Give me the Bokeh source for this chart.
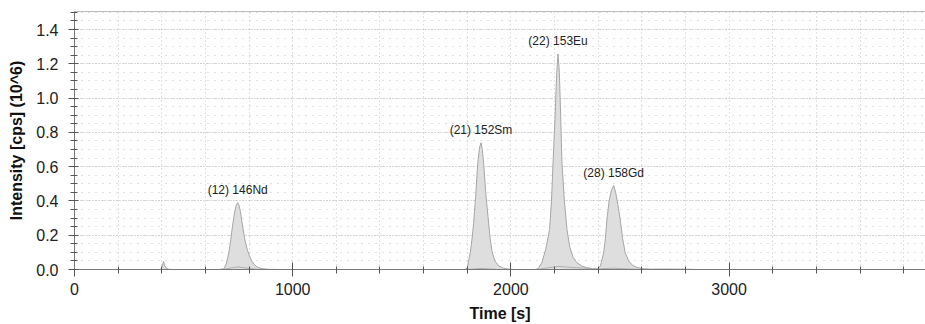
from bokeh.plotting import figure
from bokeh.models import Range1d, SingleIntervalTicker, Span, ColumnDataSource, NumeralTickFormatter
from bokeh.core.properties import value
from bokeh.embed import file_html
from bokeh.resources import INLINE

# Chromatogram trace: retention time [s] and intensity [cps] (10^6)
time_s = [
    0, 395, 403, 408, 413, 420, 430, 445,
    660, 684, 695, 707, 715, 722, 733, 741, 748, 754, 760, 766, 772, 780, 790, 800, 812, 825, 840, 860, 890, 930,
    1790, 1800, 1806, 1814, 1822, 1829, 1838, 1848, 1856, 1863, 1869, 1875, 1884, 1891, 1898, 1905, 1913,
    1921, 1929, 1945, 1965, 1990, 2020,
    2110, 2125, 2142, 2160, 2177, 2186, 2193, 2202, 2210, 2216, 2222, 2228, 2234, 2245, 2257, 2270, 2285,
    2303, 2325, 2350, 2379,
    2395, 2410, 2425, 2433, 2440, 2450, 2460, 2471, 2480, 2490, 2501, 2512, 2524, 2540, 2557, 2577, 2605,
    2640, 2700, 2800, 2850, 3900,
]
intensity = [
    0.0, 0.0, 0.02, 0.047, 0.025, 0.008, 0.002, 0.0,
    0.0, 0.004, 0.03, 0.097, 0.16, 0.233, 0.33, 0.375, 0.39, 0.375, 0.34, 0.29, 0.24, 0.18, 0.125, 0.085,
    0.05, 0.027, 0.012, 0.005, 0.001, 0.0,
    0.0, 0.01, 0.05, 0.10, 0.18, 0.27, 0.42, 0.62, 0.71, 0.74, 0.70, 0.62, 0.46, 0.36, 0.27, 0.18, 0.11,
    0.07, 0.045, 0.02, 0.008, 0.002, 0.0,
    0.0, 0.005, 0.04, 0.12, 0.233, 0.40, 0.62, 0.88, 1.15, 1.257, 1.15, 0.90, 0.62, 0.40, 0.233, 0.13, 0.07,
    0.04, 0.02, 0.01, 0.005,
    0.004, 0.02, 0.097, 0.18, 0.29, 0.40, 0.46, 0.49, 0.45, 0.38, 0.29, 0.18, 0.097, 0.05, 0.025, 0.012, 0.005,
    0.002, 0.003, 0.002, 0.0, 0.0,
]

# Secondary (weak) isotope trace underneath the main peaks
minor_time = [0, 680, 720, 748, 780, 840, 1800, 1863, 1940, 2120, 2180, 2216, 2260, 2330, 2400, 2440,
              2471, 2520, 2600, 3900]
minor_intensity = [0.0, 0.0, 0.01, 0.015, 0.01, 0.0, 0.0, 0.006, 0.0, 0.0, 0.012, 0.018, 0.014, 0.008,
                   0.004, 0.006, 0.008, 0.004, 0.0, 0.0]

# Peak annotations
peak_labels = ["(12) 146Nd", "(21) 152Sm", "(22) 153Eu", "(28) 158Gd"]
peak_times = [748, 1863, 2216, 2471]
peak_heights = [0.39, 0.74, 1.257, 0.49]

FONT = "Liberation Sans"
AXIS_GRAY = "#7a7a7a"
GRID_GRAY = "#c4c4c4"

p = figure(
    width=925, height=324,
    output_backend="svg", toolbar_location=None,
    x_range=Range1d(0, 3900), y_range=Range1d(0, 1.505),
    min_border_left=74, min_border_right=0, min_border_top=11, min_border_bottom=54,
    background_fill_color="white", border_fill_color="white",
)
p.outline_line_color = None

# Axes
p.xaxis.ticker = SingleIntervalTicker(interval=1000, num_minor_ticks=5)
p.yaxis.ticker = SingleIntervalTicker(interval=0.2, num_minor_ticks=4)
p.yaxis.formatter = NumeralTickFormatter(format="0.0")

for ax in (p.xaxis[0], p.yaxis[0]):
    ax.axis_line_color = AXIS_GRAY
    ax.major_tick_line_color = "#555555"
    ax.minor_tick_line_color = "#555555"
    ax.major_label_text_font = FONT
    ax.major_label_text_font_size = "16px"
    ax.major_label_text_color = "#222222"
    ax.axis_label_text_font = FONT
    ax.axis_label_text_font_size = "16px"
    ax.axis_label_text_font_style = "bold"
    ax.axis_label_text_color = "#111111"

p.xaxis.axis_label = "Time [s]"
p.xaxis.major_tick_in = 7
p.xaxis.major_tick_out = 7
p.xaxis.minor_tick_in = 3
p.xaxis.minor_tick_out = 4
p.xaxis.major_label_standoff = 6
p.xaxis.axis_label_standoff = 7

p.yaxis.axis_label = "Intensity [cps] (10^6)"
p.yaxis.major_tick_in = 4
p.yaxis.major_tick_out = 6
p.yaxis.minor_tick_in = 3
p.yaxis.minor_tick_out = 4
p.yaxis.major_label_standoff = 10
p.yaxis.axis_label_standoff = 8

# Grid
p.xgrid.ticker = SingleIntervalTicker(interval=200)
p.xgrid.grid_line_color = GRID_GRAY
p.xgrid.grid_line_dash = "1 3"
p.ygrid.grid_line_color = "#b8b8b8"
p.ygrid.grid_line_dash = "1 2"
p.ygrid.minor_grid_line_color = GRID_GRAY
p.ygrid.minor_grid_line_dash = "1 6"

# Top frame border
p.add_layout(Span(location=1.505, dimension="width", line_color=AXIS_GRAY, line_width=1))

# Traces
src = ColumnDataSource(dict(t=time_s, y=intensity))
p.varea(x="t", y1=0, y2="y", source=src, fill_color="#dedede", fill_alpha=1.0)
p.line(x="t", y="y", source=src, line_color="#a6a6a6", line_width=1)
p.line(x=minor_time, y=minor_intensity, line_color="#b0b0b0", line_width=1)

lbl = ColumnDataSource(dict(x=peak_times, y=peak_heights, text=peak_labels))
p.text(x="x", y="y", text="text", source=lbl, text_align="center", text_baseline="bottom",
       y_offset=-6, text_font=value(FONT), text_font_size="12px", text_color="#222222")

open("out.html", "w").write(file_html(p, INLINE))
